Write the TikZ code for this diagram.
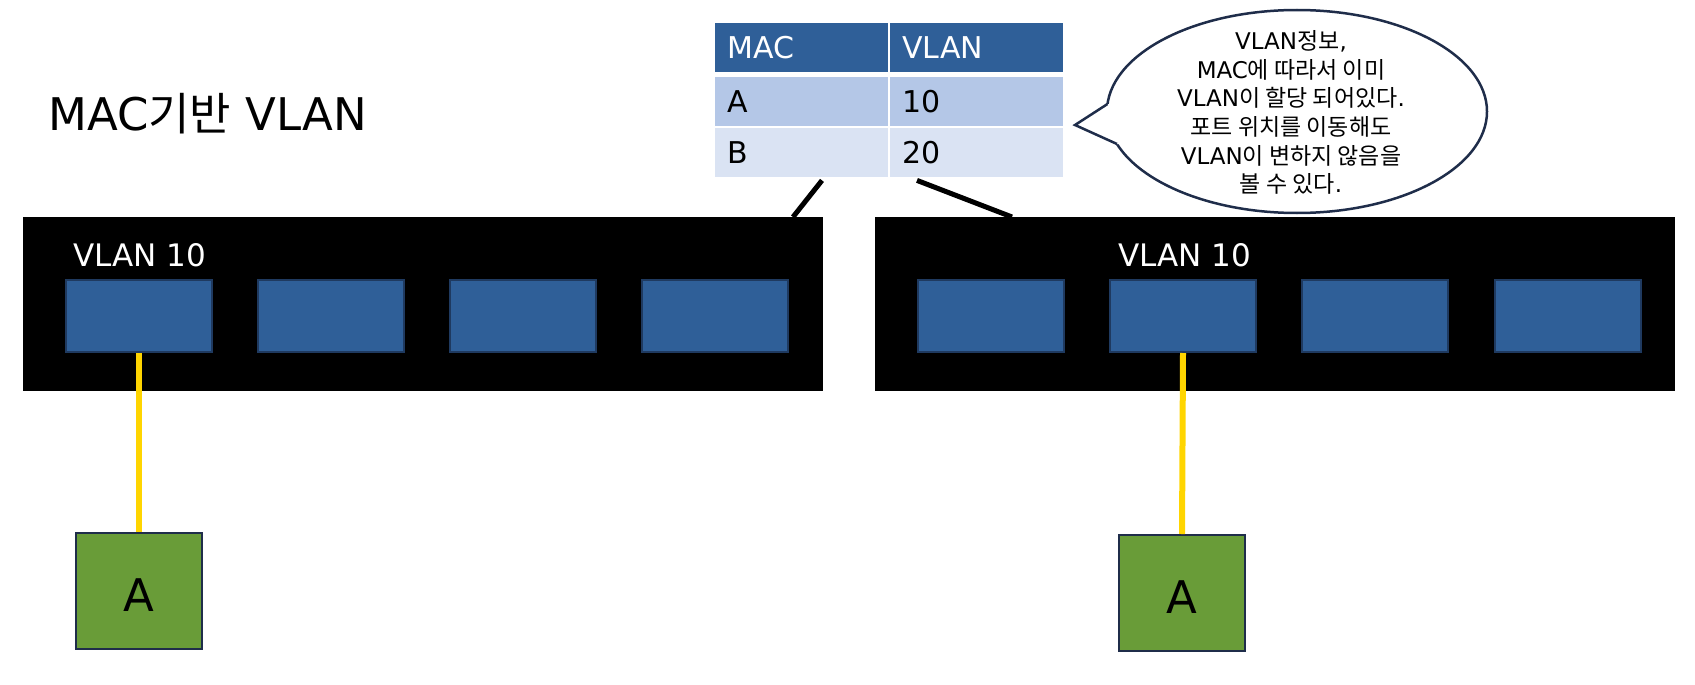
\documentclass[tikz,border=0pt]{standalone}
\usepackage{fontspec}
\setmainfont{DejaVu Sans}
\newfontfamily\krfont{Noto Sans CJK KR}
\newcommand{\krtext}[1]{{\krfont #1}}
\usetikzlibrary{calc}
\definecolor{hdr}{HTML}{2F5F98}
\definecolor{rowa}{HTML}{B4C7E7}
\definecolor{rowb}{HTML}{DAE3F3}
\definecolor{portc}{HTML}{2F5F98}
\definecolor{portb}{HTML}{1F3A60}
\definecolor{pcgreen}{HTML}{699C38}
\definecolor{navy}{HTML}{1F2D4A}
\definecolor{cable}{HTML}{FFD500}
\begin{document}
\begin{tikzpicture}[x=1pt,y=-1pt,
  switchbox/.style={fill=black, minimum width=800pt, minimum height=174pt, inner sep=0pt, anchor=north west},
  portbox/.style={fill=portc, draw=portb, line width=2pt, minimum width=146pt, minimum height=72pt, inner sep=0pt, anchor=north west},
  pcbox/.style={fill=pcgreen, draw=navy, line width=2pt, minimum width=126pt, minimum height=116pt, inner sep=0pt, anchor=north west, text height=40pt, text depth=0pt, font=\fontsize{45}{54}\selectfont},
  cell/.style={anchor=north west, minimum height=49pt, text width=149pt, inner xsep=12pt, inner ysep=0pt, align=left, text height=22pt, text depth=0pt, font=\fontsize{30}{36}\selectfont},
  hcell/.style={cell, fill=hdr, text=white},
  acell/.style={cell, fill=rowa},
  bcell/.style={cell, fill=rowb},
  vlanlabel/.style={text=white, inner sep=0pt, font=\fontsize{31}{36}\selectfont},
  link/.style={line width=5pt},
  cablestyle/.style={draw=cable, line width=6pt},
]
\useasboundingbox (0,0) rectangle (1695,685);

% title
\node[anchor=base west, inner sep=0pt, font=\fontsize{45}{54}\selectfont] (title) at (48,130) {MAC\krtext{기반} VLAN};

% table
\node[hcell] (tH1) at (715,23) {MAC};
\node[hcell] (tH2) at (890,23) {VLAN};
\node[acell] (tA1) at (715,76.5) {A};
\node[acell] (tA2) at (890,76.5) {10};
\node[bcell] (tB1) at (715,127.5) {B};
\node[bcell] (tB2) at (890,127.5) {20};

% switches
\node[switchbox] (swL) at (23,217) {};
\node[switchbox] (swR) at (875,217) {};

% links table -> switches
\draw[link] ($(tB1.south west)+(107,3.5)$) -- ($(swL.north west)+(770,0)$);
\draw[link] ($(tB2.south west)+(27,3.5)$) -- ($(swR.north west)+(137,0)$);

% labels
\node[vlanlabel, anchor=base west] (vlL) at (73,266) {VLAN 10};
\node[vlanlabel, anchor=base] (vlR) at (1184.5,266) {VLAN 10};

% ports
\node[portbox] (pL1) at (65,279) {};
\node[portbox] (pL2) at (257,279) {};
\node[portbox] (pL3) at (449,279) {};
\node[portbox] (pL4) at (641,279) {};
\node[portbox] (pR1) at (917,279) {};
\node[portbox] (pR2) at (1109,279) {};
\node[portbox] (pR3) at (1301,279) {};
\node[portbox] (pR4) at (1494,279) {};

% hosts
\node[pcbox] (pcL) at (75,532) {A};
\node[pcbox] (pcR) at (1118,534) {A};

% cables
\draw[cablestyle] (pL1.south) -- (pcL.north);
\draw[cablestyle] (pR2.south) -- (pcR.north);

% callout
\draw[navy, line width=2.5pt, fill=white] (1297,111.5) ellipse [x radius=190pt, y radius=101.5pt];
\fill[white] (1075,125) -- (1107.5,104) -- (1125,104) -- (1125,144) -- (1117,144) -- cycle;
\draw[navy, line width=2.5pt, line join=miter] (1107.5,104) -- (1075,125) -- (1117,144);
\node[font=\fontsize{23}{28.6}\selectfont, align=center, inner sep=0pt] (note) at (1291,112.5)
  {VLAN\krtext{정보},\\MAC\krtext{에 따라서 이미}\\VLAN\krtext{이 할당 되어있다}.\\\krtext{포트 위치를 이동해도}\\VLAN\krtext{이 변하지 않음을}\\\krtext{볼 수 있다}.};
\end{tikzpicture}
\end{document}
